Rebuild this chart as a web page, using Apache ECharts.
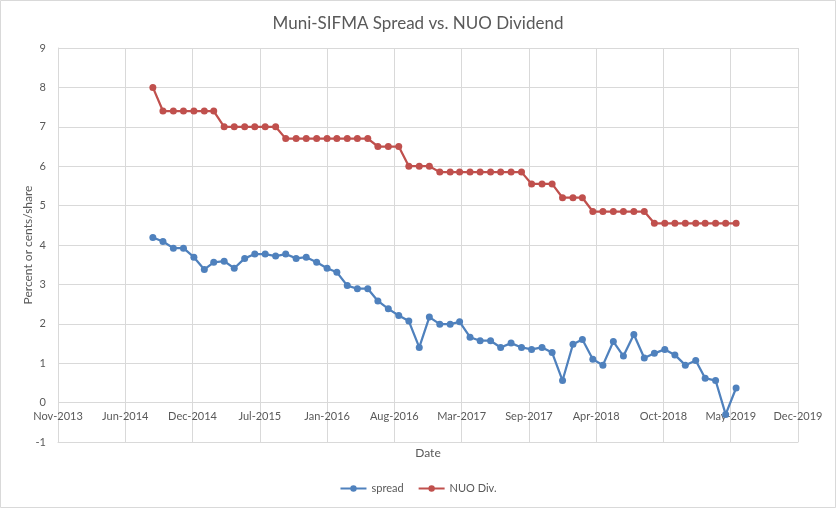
<!DOCTYPE html>
<html>
<head>
<meta charset="utf-8">
<script src="https://cdn.jsdelivr.net/npm/echarts@6/dist/echarts.min.js"></script>
<style>
html,body{margin:0;padding:0;background:#fff;}
#chart{width:836px;height:508px;}
</style>
</head>
<body>
<div id="chart"></div>
<script>
// Monthly observations (end of month)
var months = [
  '2014-08','2014-09','2014-10','2014-11','2014-12',
  '2015-01','2015-02','2015-03','2015-04','2015-05','2015-06','2015-07','2015-08','2015-09','2015-10','2015-11','2015-12',
  '2016-01','2016-02','2016-03','2016-04','2016-05','2016-06','2016-07','2016-08','2016-09','2016-10','2016-11','2016-12',
  '2017-01','2017-02','2017-03','2017-04','2017-05','2017-06','2017-07','2017-08','2017-09','2017-10','2017-11','2017-12',
  '2018-01','2018-02','2018-03','2018-04','2018-05','2018-06','2018-07','2018-08','2018-09','2018-10','2018-11','2018-12',
  '2019-01','2019-02','2019-03','2019-04','2019-05'
];
var spread = [
  4.19, 4.09, 3.92, 3.92, 3.69,
  3.38, 3.56, 3.59, 3.41, 3.66, 3.77, 3.77, 3.72, 3.77, 3.66, 3.69, 3.56,
  3.41, 3.31, 2.97, 2.89, 2.89, 2.58, 2.38, 2.21, 2.07, 1.40, 2.17, 1.99,
  1.99, 2.05, 1.66, 1.57, 1.57, 1.40, 1.51, 1.40, 1.35, 1.40, 1.27, 0.56,
  1.48, 1.60, 1.10, 0.95, 1.55, 1.18, 1.73, 1.13, 1.25, 1.35, 1.21, 0.95,
  1.07, 0.62, 0.56, -0.30, 0.37
];
var nuoDiv = [
  8.0, 7.4, 7.4, 7.4, 7.4,
  7.4, 7.4, 7.0, 7.0, 7.0, 7.0, 7.0, 7.0, 6.7, 6.7, 6.7, 6.7,
  6.7, 6.7, 6.7, 6.7, 6.7, 6.5, 6.5, 6.5, 6.0, 6.0, 6.0, 5.85,
  5.85, 5.85, 5.85, 5.85, 5.85, 5.85, 5.85, 5.85, 5.55, 5.55, 5.55, 5.2,
  5.2, 5.2, 4.85, 4.85, 4.85, 4.85, 4.85, 4.85, 4.55, 4.55, 4.55, 4.55,
  4.55, 4.55, 4.55, 4.55, 4.55
];
var seriesNames = ['spread', 'NUO Div.'];
var yTicks = { min: -1, max: 9, step: 1 };
var xAxisStart = '2013-11-22';   // date-axis start (Excel serial 41600)
var xAxisSpanDays = 2200, xAxisStepDays = 200;

var DAY = 86400000;
var monNames = ['Jan','Feb','Mar','Apr','May','Jun','Jul','Aug','Sep','Oct','Nov','Dec'];
var sp = xAxisStart.split('-');
var base = Date.UTC(+sp[0], +sp[1] - 1, +sp[2]);
function dayOffset(ym) {
  var p = ym.split('-');
  var t = Date.UTC(+p[0], +p[1], 0); // last day of month
  return Math.round((t - base) / DAY);
}
var xs = months.map(dayOffset);
function pairs(vals) { return vals.map(function (v, i) { return [xs[i], v]; }); }

var FONT = 'Lato, "Open Sans", sans-serif';
var TXT = '#595959';
var GRID = '#d9d9d9';

var chart = echarts.init(document.getElementById('chart'), null, { renderer: 'canvas' });
chart.setOption({
  animation: false,
  backgroundColor: '#fff',
  textStyle: { fontFamily: FONT },
  graphic: [{
    type: 'rect', silent: true,
    shape: { x: 0.5, y: 0.5, width: 835, height: 507 },
    style: { fill: 'none', stroke: GRID, lineWidth: 1 }
  }],
  title: {
    text: 'Muni-SIFMA Spread vs. NUO Dividend',
    left: 'center', top: 10,
    textStyle: { fontFamily: FONT, fontSize: 17, fontWeight: 'normal', color: TXT }
  },
  legend: {
    data: seriesNames,
    bottom: 9, left: 'center',
    itemWidth: 26, itemHeight: 8, itemGap: 14,
    textStyle: { fontFamily: FONT, fontSize: 11, color: TXT }
  },
  grid: { left: 58, right: 38, top: 48, bottom: 66, containLabel: false },
  xAxis: {
    type: 'value',
    min: 0, max: xAxisSpanDays, interval: xAxisStepDays,
    name: 'Date', nameLocation: 'middle', nameGap: 5, nameMoveOverlap: false,
    nameTextStyle: { fontFamily: FONT, fontSize: 12, color: TXT, verticalAlign: 'top' },
    axisLine: { show: true, onZero: false, lineStyle: { color: GRID, width: 1 } },
    axisTick: { show: false },
    axisLabel: {
      color: TXT, fontFamily: FONT, fontSize: 11, margin: -31,
      showMinLabel: true, showMaxLabel: true,
      formatter: function (v) {
        var d = new Date(base + v * DAY);
        return monNames[d.getUTCMonth()] + '-' + d.getUTCFullYear();
      }
    },
    splitLine: { show: true, lineStyle: { color: GRID, width: 1 } }
  },
  yAxis: {
    type: 'value',
    min: yTicks.min, max: yTicks.max, interval: yTicks.step,
    name: 'Percent or cents/share', nameLocation: 'middle', nameRotate: 90, nameGap: 24,
    nameMoveOverlap: false,
    nameTextStyle: { fontFamily: FONT, fontSize: 12, color: TXT },
    axisLine: { show: true, onZero: false, lineStyle: { color: GRID, width: 1 } },
    axisTick: { show: false },
    axisLabel: { color: TXT, fontFamily: FONT, fontSize: 11, margin: 12 },
    splitLine: { show: true, lineStyle: { color: GRID, width: 1 } }
  },
  series: [
    {
      name: seriesNames[0], type: 'line', data: pairs(spread),
      symbol: 'circle', symbolSize: 7,
      lineStyle: { color: '#4F81BD', width: 2.25 },
      itemStyle: { color: '#4F81BD' },
      z: 3
    },
    {
      name: seriesNames[1], type: 'line', data: pairs(nuoDiv),
      symbol: 'circle', symbolSize: 7,
      lineStyle: { color: '#C0504D', width: 2.25 },
      itemStyle: { color: '#C0504D' },
      z: 2
    }
  ]
});
</script>
</body>
</html>
